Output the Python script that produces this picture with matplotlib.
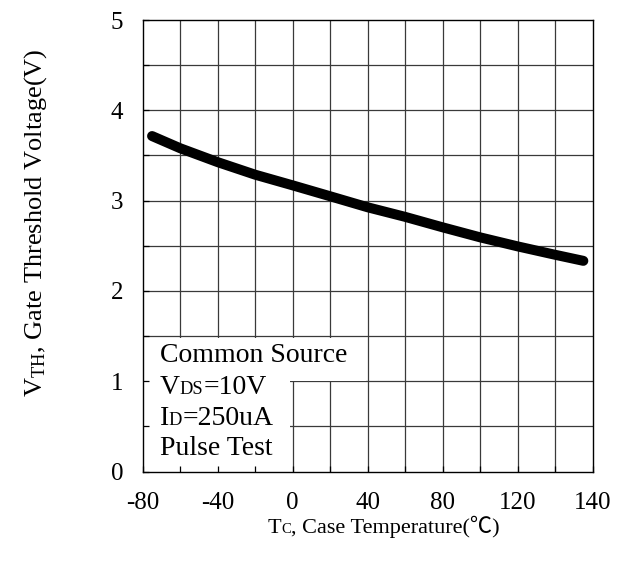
import numpy as np
import matplotlib
matplotlib.use("Agg")
import matplotlib.pyplot as plt
from matplotlib.patches import Rectangle
from matplotlib.ticker import MultipleLocator
from matplotlib.offsetbox import TextArea, HPacker, AnnotationBbox

# ── Data ──────────────────────────────────────────────────────────────────────
tc_c   = [-75, -60, -40, -20, 0, 20, 40, 60, 80, 100, 120, 140, 155]
vth_v  = [3.715, 3.58, 3.426, 3.287, 3.169, 3.048, 2.926, 2.82, 2.704, 2.593, 2.493, 2.40, 2.333]

x_ticks  = [-80, -40, 0, 40, 80, 120, 160]
x_labels = ["-80", "-40", "0", "40", "80", "120", "140"]   # as printed on the sheet
y_ticks  = [0, 1, 2, 3, 4, 5]
# (main, subscript, rest) for each note line
note_lines = [("Common Source", "", ""), ("V", "DS", "=10V"), ("I", "D", "=250uA"), ("Pulse Test", "", "")]

# ── Style ─────────────────────────────────────────────────────────────────────
SERIF = ["Liberation Serif", "Noto Sans CJK SC", "DejaVu Serif"]
plt.rcParams["font.family"] = SERIF
plt.rcParams["mathtext.fontset"] = "custom"
plt.rcParams["mathtext.rm"] = "Liberation Serif"
plt.rcParams["mathtext.it"] = "Liberation Serif:italic"


def sub_text(main, sub, rest, size):
    """text with a small-cap style subscript sitting on the baseline"""
    parts = [TextArea(main, textprops=dict(fontsize=size, family=SERIF))]
    if sub:
        parts.append(TextArea(sub, textprops=dict(fontsize=size * 0.66, family=SERIF)))
    if rest:
        parts.append(TextArea(rest, textprops=dict(fontsize=size, family=SERIF)))
    return HPacker(children=parts, align="baseline", pad=0, sep=0)


fig = plt.figure(figsize=(6.35, 5.64), dpi=100)
ax = fig.add_axes([0.2247, 0.164, 0.7087, 0.8005])

xmin, xmax, ymin, ymax = -80, 160, 0, 5
ax.set_xlim(xmin, xmax)
ax.set_ylim(ymin, ymax)

# grid drawn by hand so the note box can sit over it but under the ticks
for gx in np.arange(xmin + 20, xmax, 20):
    ax.axvline(gx, color="#3a3a3a", lw=0.9, zorder=1)
for gy in np.arange(ymin + 0.5, ymax, 0.5):
    ax.axhline(gy, color="#3a3a3a", lw=0.9, zorder=1)

# white note box in lower left (wider behind the first line)
ax.add_patch(Rectangle((xmin, 1.0), 119, 0.48, facecolor="white", edgecolor="none", zorder=1.6))
ax.add_patch(Rectangle((xmin, 0), 78.5, 1.0, facecolor="white", edgecolor="none", zorder=1.6))

ax.plot(tc_c, vth_v, color="black", lw=7.2, solid_capstyle="round", zorder=3)

note_y = [1.28, 0.93, 0.59, 0.25]
for (m, s, r), ty in zip(note_lines, note_y):
    ab = AnnotationBbox(sub_text(m, s, r, 20), (-71, ty), xycoords="data",
                        frameon=False, box_alignment=(0, 0.5), zorder=4)
    ax.add_artist(ab)

ax.set_xticks(x_ticks)
ax.set_xticklabels(x_labels)
ax.set_yticks(y_ticks)
ax.xaxis.set_minor_locator(MultipleLocator(20))
ax.yaxis.set_minor_locator(MultipleLocator(0.5))
ax.tick_params(which="both", direction="in", length=4, width=0.9, colors="black",
               labelsize=18)
ax.tick_params(axis="x", which="major", pad=15)
ax.tick_params(axis="y", which="major", pad=14)
ax.set_axisbelow(False)

for s in ax.spines.values():
    s.set_linewidth(1.0)
    s.set_color("black")
    s.set_zorder(5)

# x label (℃ needs a font that has it, so no mathtext here)
xl = AnnotationBbox(sub_text("T", "C", ", Case Temperature(℃)", 16), (0.536, -0.123),
                    xycoords="axes fraction", frameon=False, box_alignment=(0.5, 0.5),
                    annotation_clip=False)
ax.add_artist(xl)

ax.set_ylabel(r"V$_{\mathrm{TH}}$, Gate Threshold Voltage(V)", fontsize=19, va="center")
ax.yaxis.set_label_coords(-0.239, 0.55)

fig.savefig("out.png", dpi=100)
